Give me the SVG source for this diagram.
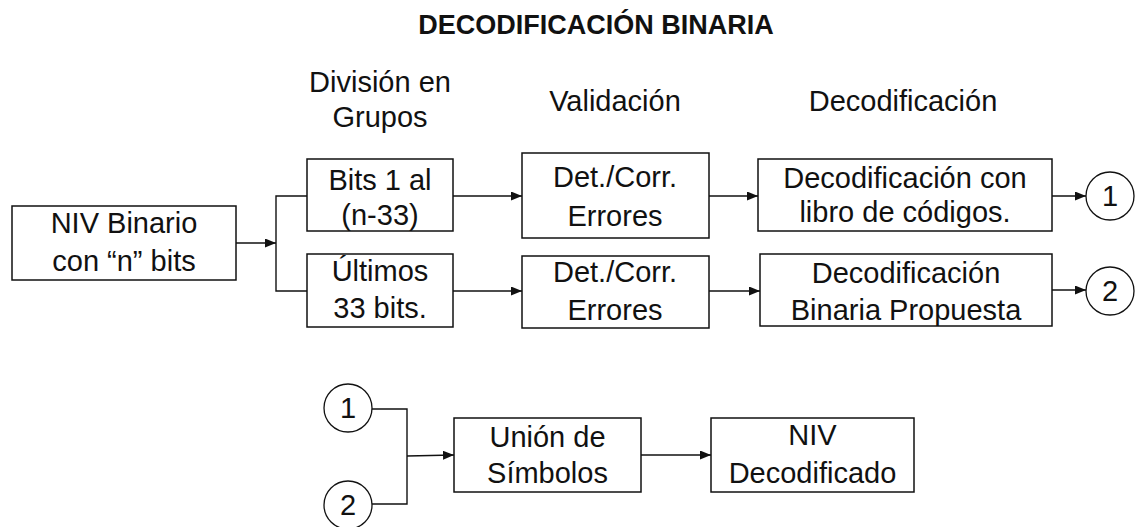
<svg xmlns="http://www.w3.org/2000/svg" width="1136" height="527" viewBox="0 0 1136 527">
<style>
  text { font-family: "Liberation Sans", Arial, sans-serif; font-size: 29px; fill: #111; text-anchor: middle; }
  .title { font-weight: bold; font-size: 27px; }
  .box { fill: #fff; stroke: #111; stroke-width: 1.5; }
  .circ { fill: #fff; stroke: #111; stroke-width: 1.3; }
  .conn { fill: none; stroke: #111; stroke-width: 1.4; }
</style>
<defs>
  <marker id="arr" markerUnits="userSpaceOnUse" markerWidth="11" markerHeight="9" refX="11" refY="4.5" orient="auto">
    <path d="M0,0 L11,4.5 L0,9 z" fill="#111"/>
  </marker>
</defs>
<rect width="1136" height="527" fill="#fff"/>

<g id="title"><text class="title" x="596" y="34">DECODIFICACIÓN BINARIA</text></g>
<g id="headers">
  <text x="380" y="92">División en</text>
  <text x="380" y="127">Grupos</text>
  <text x="615" y="111">Validación</text>
  <text x="903" y="111">Decodificación</text>
</g>

<g id="connectors">
  <line class="conn" x1="236" y1="243" x2="276" y2="243" marker-end="url(#arr)"/>
  <polyline class="conn" points="307,196 276,196 276,291 307,291"/>
  <line class="conn" x1="453" y1="196" x2="522" y2="196" marker-end="url(#arr)"/>
  <line class="conn" x1="453" y1="291" x2="522" y2="291" marker-end="url(#arr)"/>
  <line class="conn" x1="709" y1="196" x2="758" y2="196" marker-end="url(#arr)"/>
  <line class="conn" x1="709" y1="291" x2="760" y2="291" marker-end="url(#arr)"/>
  <line class="conn" x1="1052" y1="196" x2="1086" y2="196" marker-end="url(#arr)"/>
  <line class="conn" x1="1052" y1="290" x2="1086" y2="290" marker-end="url(#arr)"/>
  <polyline class="conn" points="372,409 407,409 407,504 372,504"/>
  <line class="conn" x1="407" y1="456" x2="454" y2="455" marker-end="url(#arr)"/>
  <line class="conn" x1="641" y1="455" x2="711" y2="455" marker-end="url(#arr)"/>
</g>

<g id="niv-binario">
  <rect class="box" x="12" y="206" width="224" height="74"/>
  <text x="124" y="233">NIV Binario</text>
  <text x="124" y="271">con “n” bits</text>
</g>
<g id="bits-1-al">
  <rect class="box" x="307" y="159" width="146" height="72"/>
  <text x="380" y="190">Bits 1 al</text>
  <text x="380" y="225">(n-33)</text>
</g>
<g id="ultimos">
  <rect class="box" x="307" y="254" width="146" height="73"/>
  <text x="380" y="281">Últimos</text>
  <text x="380" y="318">33 bits.</text>
</g>
<g id="det-corr-1">
  <rect class="box" x="522" y="153" width="187" height="85"/>
  <text x="615" y="187">Det./Corr.</text>
  <text x="615" y="226">Errores</text>
</g>
<g id="det-corr-2">
  <rect class="box" x="522" y="256" width="187" height="72"/>
  <text x="615" y="282">Det./Corr.</text>
  <text x="615" y="320">Errores</text>
</g>
<g id="decod-libro">
  <rect class="box" x="758" y="159" width="294" height="72"/>
  <text x="905" y="188">Decodificación con</text>
  <text x="905" y="222">libro de códigos.</text>
</g>
<g id="decod-binaria">
  <rect class="box" x="760" y="254" width="292" height="72"/>
  <text x="906" y="283">Decodificación</text>
  <text x="906" y="320">Binaria Propuesta</text>
</g>
<g id="conector-1-salida">
  <circle class="circ" cx="1110" cy="196" r="24"/>
  <text x="1110" y="206">1</text>
</g>
<g id="conector-2-salida">
  <circle class="circ" cx="1110" cy="291" r="24"/>
  <text x="1110" y="301">2</text>
</g>
<g id="conector-1-entrada">
  <circle class="circ" cx="348" cy="408" r="24"/>
  <text x="348" y="418">1</text>
</g>
<g id="conector-2-entrada">
  <circle class="circ" cx="348" cy="505" r="24"/>
  <text x="348" y="515">2</text>
</g>
<g id="union-simbolos">
  <rect class="box" x="454" y="418" width="187" height="74"/>
  <text x="547.5" y="447">Unión de</text>
  <text x="547.5" y="483">Símbolos</text>
</g>
<g id="niv-decodificado">
  <rect class="box" x="711" y="418" width="203" height="74"/>
  <text x="812.5" y="445">NIV</text>
  <text x="812.5" y="483">Decodificado</text>
</g>
</svg>
